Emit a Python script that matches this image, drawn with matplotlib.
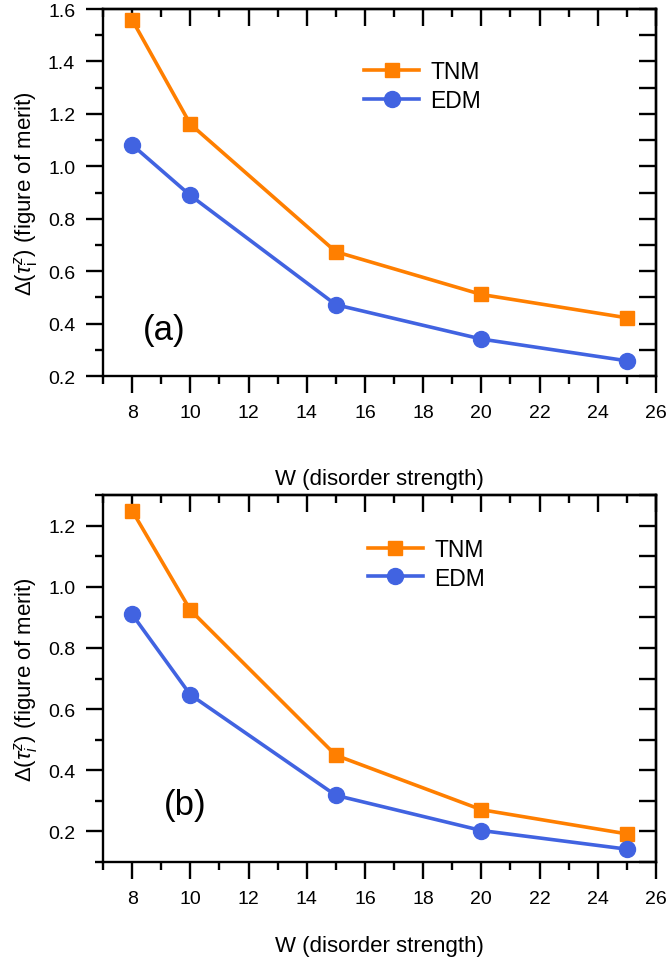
import matplotlib
matplotlib.use("Agg")
import matplotlib.pyplot as plt
from matplotlib.ticker import MultipleLocator

plt.rcParams["font.family"] = ["Liberation Sans", "DejaVu Sans"]
plt.rcParams["mathtext.fontset"] = "custom"
plt.rcParams["mathtext.rm"] = "Liberation Sans"
plt.rcParams["mathtext.it"] = "Liberation Sans:italic"

W = [8, 10, 15, 20, 25]

# panel (a)
tnm_a = [1.559, 1.161, 0.674, 0.511, 0.422]
edm_a = [1.082, 0.889, 0.472, 0.341, 0.258]

# panel (b)
tnm_b = [1.249, 0.924, 0.449, 0.271, 0.192]
edm_b = [0.910, 0.647, 0.318, 0.203, 0.142]

ylabels = [r"$\Delta(\tau_{\mathrm{i}}^{z})$ (figure of merit)",
           r"$\Delta(\tau_{i}^{z})$ (figure of merit)"]
ylims = [(0.2, 1.6), (0.1, 1.3)]
tags = ["(a)", "(b)"]
tag_pos = [(0.110, 0.128), (0.148, 0.158)]
leg_pos = [(0.472, 0.790), (0.479, 0.813)]
xlabel_pads = [34, 20]

ORANGE = "#FF7F00"
BLUE = "#4163E1"

fig = plt.figure(figsize=(6.7, 9.62), dpi=100)
rects = [[0.1537, 0.6081, 0.8254, 0.3815], [0.1537, 0.1029, 0.8254, 0.3815]]

for k, (tnm, edm) in enumerate([(tnm_a, edm_a), (tnm_b, edm_b)]):
    ax = fig.add_axes(rects[k])
    ax.plot(W, tnm, color=ORANGE, lw=2.6, marker="s", ms=10.5, label="TNM")
    ax.plot(W, edm, color=BLUE, lw=2.6, marker="o", ms=11.5, label="EDM")

    ax.set_xlim(7, 26)
    ax.set_ylim(*ylims[k])
    ax.xaxis.set_major_locator(MultipleLocator(2))
    ax.xaxis.set_minor_locator(MultipleLocator(1))
    ax.yaxis.set_major_locator(MultipleLocator(0.2))
    ax.yaxis.set_minor_locator(MultipleLocator(0.1))
    ax.yaxis.set_major_formatter(lambda v, p: f"{v:.1f}")

    for s in ax.spines.values():
        s.set_linewidth(1.7)
    ax.tick_params(which="both", direction="out", width=1.7, labelsize=14,
                   top=False, right=False)
    ax.tick_params(which="major", length=12)
    ax.tick_params(which="minor", length=6)
    ax.tick_params(axis="x", which="major", pad=8)
    ax.tick_params(axis="y", which="major", pad=8)

    # mirrored ticks pointing inward
    top = ax.secondary_xaxis("top")
    top.xaxis.set_major_locator(MultipleLocator(2))
    top.xaxis.set_minor_locator(MultipleLocator(1))
    top.tick_params(which="both", direction="in", width=1.7, labeltop=False)
    top.tick_params(which="major", length=12)
    top.tick_params(which="minor", length=6)
    top.spines["top"].set_linewidth(1.7)

    right = ax.secondary_yaxis("right")
    right.yaxis.set_major_locator(MultipleLocator(0.2))
    right.yaxis.set_minor_locator(MultipleLocator(0.1))
    right.tick_params(which="both", direction="in", width=1.7, length=12,
                      labelright=False)
    right.spines["right"].set_linewidth(1.7)

    ax.set_xlabel("W (disorder strength)", fontsize=16, labelpad=xlabel_pads[k])
    ax.set_ylabel(ylabels[k], fontsize=16, labelpad=6)

    ax.text(*tag_pos[k], tags[k], transform=ax.transAxes, fontsize=25,
            ha="center", va="center")

    ax.legend(loc="center left", bbox_to_anchor=leg_pos[k], frameon=False,
              fontsize=16.5, handlelength=2.4, handletextpad=0.5,
              labelspacing=0.25, borderpad=0, borderaxespad=0)

fig.savefig("out.png", dpi=100)
